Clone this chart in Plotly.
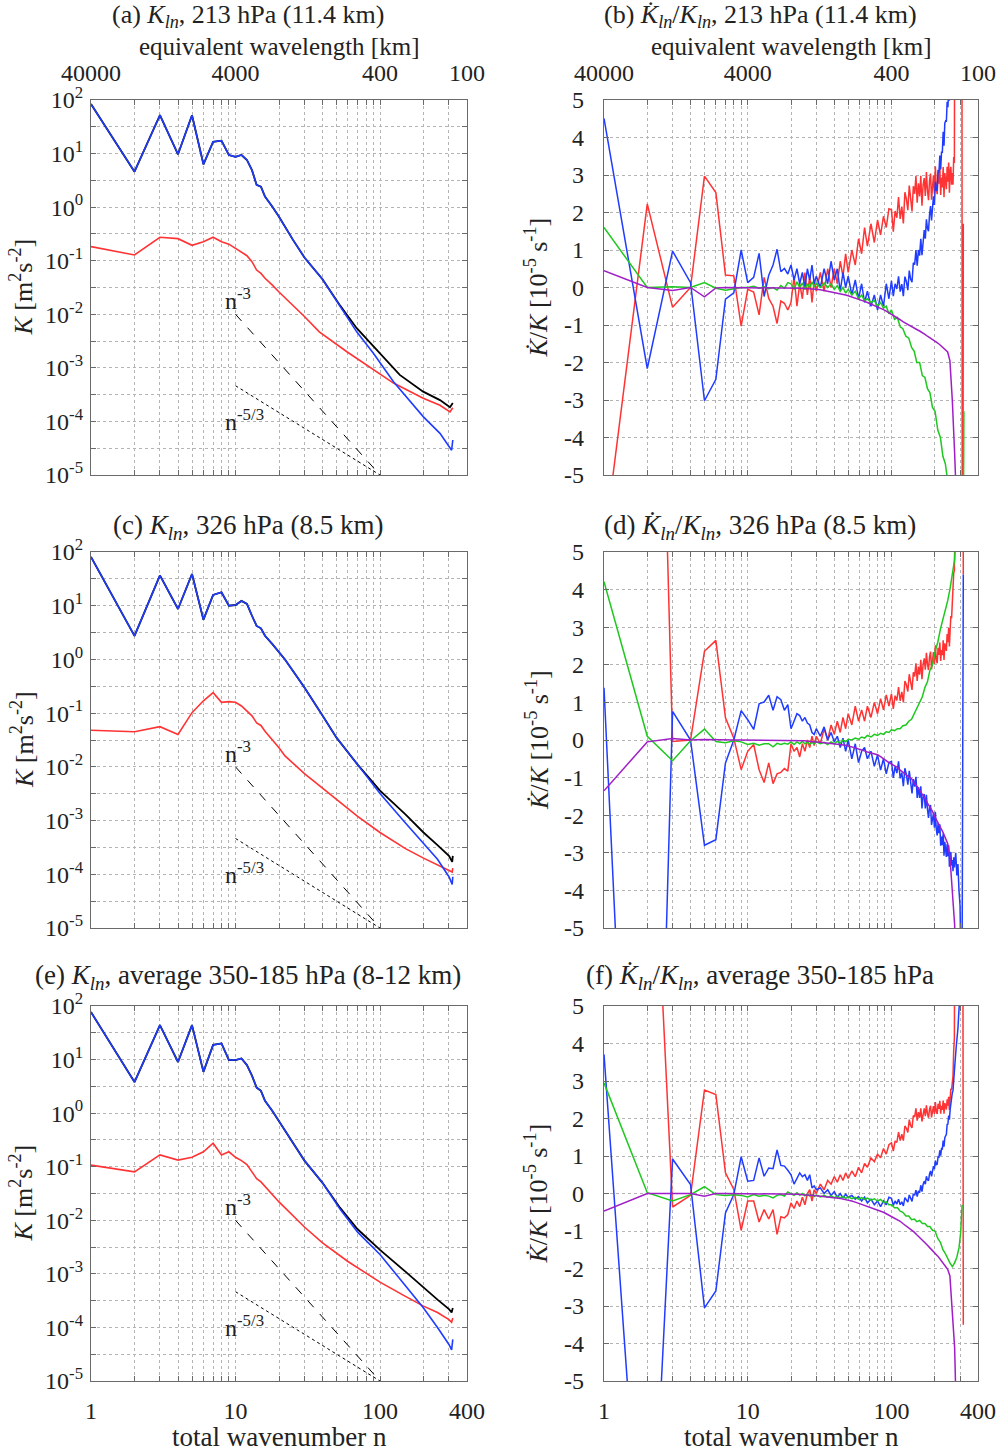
import math
import plotly.graph_objects as go

# ---------------- data ----------------
# left panels: kinetic energy spectra K(n)  [m^2 s^-2]
A_N_BLUE = [1,2,3,4,5,6,7,8,9,10,11,12,13,14,15,16,18,20,25,30,40,53,69,90,124,199,260,313,319]
A_BLUE = [84,4.6,52,9.7,52,6.3,16.6,17.4,9.4,8.7,9.4,7.6,4.9,2.6,2.4,1.57,1.02,0.66,0.245,0.115,0.045,0.0139,0.0047,1.87e-3,5.5e-4,1.23e-4,6e-5,2.9e-5,4.5e-5]
A_N_BLACK = [1,2,3,4,5,6,7,8,9,10,11,12,13,14,15,16,18,20,25,30,40,53,69,100,137,199,260,305,319]
A_BLACK = [84,4.6,52,9.7,52,6.3,16.6,17.4,9.4,8.7,9.4,7.6,4.9,2.6,2.4,1.57,1.02,0.66,0.245,0.115,0.045,0.0145,5.5e-3,1.87e-3,7.4e-4,3.6e-4,2.5e-4,1.84e-4,2.2e-4]
A_N_RED = [1,2,3,4,5,6,7,8,9,10,11,12,13,14,15,16,18,20,30,38,59,90,124,199,260,305,319]
A_RED = [0.183,0.128,0.274,0.258,0.194,0.227,0.274,0.227,0.204,0.17,0.141,0.124,0.096,0.067,0.058,0.047,0.035,0.026,9.1e-3,4.7e-3,2e-3,9.1e-4,5.2e-4,2.7e-4,2e-4,1.5e-4,1.8e-4]

C_N = [1,2,3,4,5,6,7,8,9,10,11,12,13,14,15,16,18,20,22,25,30,40,50,70,100,150,200,250,300,316,319]
C_BLUE = [81,2.75,36.7,8.7,39,5.5,15.9,17.8,10,10.3,12.3,10.8,6.5,4.2,3.8,2.76,1.93,1.35,1.0,0.61,0.3,0.09,0.035,0.011,3.2e-3,9e-4,3.8e-4,1.9e-4,9e-5,6.5e-5,9e-5]
C_BLACK = [81,2.75,36.7,8.7,39,5.5,15.9,17.8,10,10.3,12.3,10.8,6.5,4.2,3.8,2.76,1.93,1.35,1.0,0.61,0.3,0.09,0.035,0.011,3.6e-3,1.3e-3,6e-4,3.5e-4,2.2e-4,1.7e-4,2.2e-4]
C_RED = [0.048,0.045,0.056,0.04,0.102,0.17,0.24,0.159,0.164,0.159,0.136,0.11,0.089,0.066,0.059,0.046,0.032,0.0227,0.016,0.0118,0.0075,4e-3,2.5e-3,1.2e-3,6e-4,3e-4,2e-4,1.5e-4,1.2e-4,1.1e-4,1.3e-4]

E_N = [1,2,3,4,5,6,7,8,9,10,11,12,13,14,15,16,18,20,25,30,40,53,70,100,150,200,250,300,313,319]
E_BLUE = [77,3.8,44,9,44,5.9,18.8,20,9.8,9.8,10.5,7.9,5,3,2.6,1.7,1.1,0.7,0.27,0.13,0.05,0.016,6e-3,2.3e-3,6e-4,2.3e-4,1e-4,4.8e-5,3.8e-5,6e-5]
E_BLACK = [77,3.8,44,9,44,5.9,18.8,20,9.8,9.8,10.5,7.9,5,3,2.6,1.7,1.1,0.7,0.27,0.13,0.05,0.017,6.8e-3,2.8e-3,1.1e-3,5.5e-4,3.3e-4,2.2e-4,1.9e-4,2.3e-4]
E_N_RED = [1,2,3,4,5,6,7,8,9,10,11,12,13,14,15,16,18,20,30,40,60,100,150,200,250,300,313,319]
E_RED = [0.107,0.08,0.166,0.133,0.15,0.19,0.275,0.166,0.19,0.15,0.13,0.11,0.08,0.06,0.052,0.043,0.03,0.022,0.0075,3.8e-3,1.7e-3,7e-4,3.8e-4,2.5e-4,1.9e-4,1.4e-4,1.25e-4,1.5e-4]

# reference slopes
REF_N = [10, 100]
REF_M3 = [1e-2, 1e-5]
REF_M53 = [4.64e-4, 1e-5]

# right panels: Kdot/K [1e-5 s^-1]
N_LO = list(range(1, 20))
N_HI = [20,21,22,23,24,25,26,27,28,29,30,32,34,36,38,40,42,44,46,48,50,53,56,59,62,65,68,72,76,80,84,88,92,96,100,105,110,115,120,126,132,138,144,150,157,164,171,178,185,193,201,210,219,228,237,246,255,265,275]
N_HI_A = N_HI[:34]                 # 20 .. 96
N_DENSE = list(range(100, 275, 3))  # 100 .. 274 (noisy series)

# (b)
B_BLUE_LO = [4.51,-2.16,0.97,0.13,-3.02,-2.45,-0.31,-0.14,1.0,0.13,0.27,0.91,-0.24,0.33,0.6,1.02,0.42,0.51,0.36]
B_BLUE_A = [0.6,0.2,0.5,0.1,0.4,0.0,0.5,0.2,0.6,0.1,0.3,0.0,0.5,0.1,0.7,0.2,0.5,-0.1,0.4,0.0,0.3,-0.2,0.2,-0.3,0.1,-0.4,-0.1,-0.5,-0.2,-0.6,-0.2,-0.5,0.1,-0.3]
B_BLUE_D = [0.18,-0.23,0.10,-0.04,0.30,-0.11,0.09,-0.23,0.29,0.16,-0.07,0.45,0.22,0.14,0.66,0.61,1.00,0.58,1.00,0.85,
            1.30,0.86,1.31,1.53,1.30,1.82,1.58,1.50,1.94,2.17,1.79,2.20,2.43,2.20,2.82,2.58,2.60,3.14,3.07,3.52,
            3.15,3.61,3.61,4.15,3.78,4.38,4.44,4.42,4.95,4.81,5.27,4.98,5.59,5.93,5.85,6.53,6.76,7.65,7.91]
B_BLUE_TN, B_BLUE_T = [290, 319], [10, 10]
B_RED_LO = [-6.9,2.23,-0.53,0.0,2.97,2.53,0.33,0.31,-1.03,-0.05,-0.12,-0.73,0.27,-0.29,-0.5,-0.96,-0.36,-0.42,-0.6]
B_RED_A = [-0.4,0.3,-0.5,0.1,-0.3,0.4,-0.2,0.3,-0.4,0.2,-0.1,0.4,-0.1,0.5,0.0,0.5,0.1,0.7,0.3,0.9,0.4,1.0,0.6,1.3,0.9,1.6,1.1,1.7,1.2,1.8,1.4,1.9,1.6,2.1]
B_RED_D = [2.07,1.49,2.04,1.86,2.41,1.83,2.16,1.71,2.54,2.36,2.06,2.72,2.27,2.03,2.70,2.50,2.98,2.26,2.78,2.43,
           2.98,2.18,2.73,2.92,2.44,3.08,2.59,2.33,2.85,3.04,2.34,2.80,2.99,2.51,3.23,2.66,2.49,3.08,2.77,3.23,
           2.47,2.93,2.67,3.21,2.41,3.05,2.88,2.62,3.22,2.82,3.33,2.53,3.08,3.22,2.74,3.05,2.74,3.48,3.32]
B_RED_TN, B_RED_T = [280, 308, 312, 316], [20, 20, -20, 1.7]
B_GREEN_LO = [1.6,0,0.02,0,0.13,-0.02,-0.07,-0.04,0,0.0,0.03,-0.02,0.02,-0.03,0.0,-0.07,0.05,-0.02,0.13]
B_GREEN_HI = [0.1,-0.05,0.15,0.0,0.12,-0.05,0.1,0.0,0.15,0.02,0.1,0.0,0.12,0.0,0.1,-0.05,0.05,-0.1,0.0,-0.15,-0.05,-0.2,-0.1,-0.3,-0.2,-0.35,-0.3,-0.4,-0.35,-0.5,-0.4,-0.55,-0.5,-0.7,-0.6,-0.85,-0.8,-1.05,-1.1,-1.3,-1.35,-1.6,-1.7,-2.0,-2.0,-2.35,-2.4,-2.7,-2.8,-3.2,-3.3,-3.8,-4.0,-4.5,-4.7,-5.2,-5.6,-6,-6.5]
B_GREEN_TN, B_GREEN_T = [300, 316, 319], [-7, -7, -3.3]
B_PURPLE_LO = [0.45,0,-0.08,0,-0.25,-0.01,0,0,0,0,0,0,0,0,0,0,0,0,0]
B_PURPLE_HI = [-0.01,-0.01,-0.02,-0.02,-0.02,-0.03,-0.03,-0.04,-0.04,-0.05,-0.05,-0.06,-0.08,-0.09,-0.11,-0.12,-0.14,-0.16,-0.18,-0.2,-0.22,-0.25,-0.28,-0.31,-0.34,-0.37,-0.4,-0.44,-0.48,-0.51,-0.55,-0.59,-0.63,-0.67,-0.71,-0.76,-0.81,-0.86,-0.91,-0.96,-1.01,-1.05,-1.09,-1.12,-1.16,-1.2,-1.25,-1.3,-1.34,-1.38,-1.42,-1.48,-1.54,-1.6,-1.66,-1.72,-1.95,-3.0,-4.4]
B_PURPLE_TN, B_PURPLE_T = [285, 319], [-6, -8]

# (d)
D_BLUE_LO = [1.39,-23,0.76,0.0,-2.8,-2.65,-0.61,0.0,0.78,0.54,0.28,0.96,1.01,1.19,0.79,1.15,1.07,0.79,0.94]
D_BLUE_A = [0.3,0.5,0.7,0.65,0.5,0.6,0.45,0.4,0.2,0.15,0.3,0.1,0.35,0.0,0.2,-0.05,0.1,-0.2,0.05,-0.3,0.0,-0.5,-0.1,-0.6,-0.3,-0.2,-0.5,-0.3,-0.7,-0.4,-0.8,-0.5,-0.9,-0.6]
D_BLUE_D = [-0.57,-1.01,-0.70,-0.88,-0.57,-1.02,-0.87,-1.23,-0.75,-0.92,-1.19,-0.82,-1.19,-1.42,-1.04,-1.24,-0.98,-1.54,-1.25,-1.54,
            -1.23,-1.82,-1.51,-1.44,-1.82,-1.46,-1.84,-2.07,-1.79,-1.73,-2.26,-2.01,-1.95,-2.33,-1.91,-2.36,-2.54,-2.21,-2.48,-2.24,
            -2.81,-2.57,-2.80,-2.49,-3.08,-2.71,-2.88,-3.11,-2.77,-3.09,-2.80,-3.37,-3.04,-2.98,-3.34,-3.19,-3.49,-3.12,-3.39]
D_BLUE_TN, D_BLUE_T = [280, 285, 290, 295, 300, 303, 310, 316], [-3.0, -3.6, -3.3, -4.0, -4.4, -5.5, -6, 4.4]
D_RED_LO = [30,25,-0.04,0.0,2.36,2.65,0.59,0.05,-0.79,-0.3,-0.12,-0.79,-1.13,-0.61,-1.16,-0.9,-0.86,-0.76,-0.83]
D_RED_A = [-0.1,-0.3,-0.2,-0.45,-0.1,-0.3,0.0,-0.2,0.1,-0.15,0.1,-0.1,0.3,0.0,0.4,0.15,0.5,0.2,0.6,0.3,0.7,0.4,0.9,0.5,0.8,0.5,0.9,0.6,1.0,0.7,1.1,0.8,1.2,0.9]
D_RED_D = [1.23,0.83,1.18,1.05,1.41,1.04,1.28,1.00,1.57,1.47,1.29,1.75,1.47,1.33,1.80,1.69,2.04,1.57,1.95,1.74,
           2.13,1.62,2.01,2.17,1.87,2.32,2.02,1.86,2.21,2.35,1.88,2.20,2.34,2.02,2.52,2.15,2.04,2.45,2.26,2.59,
           2.10,2.39,2.26,2.65,2.13,2.57,2.50,2.37,2.82,2.60,2.98,2.49,2.94,3.30,3.24,3.70,3.73,4.43,4.51]
D_RED_TN, D_RED_T = [282, 312, 316], [20, 20, 4.4]
D_GREEN_LO = [4.21,0.1,-0.55,-0.02,0.29,-0.04,-0.07,-0.02,-0.05,-0.12,-0.09,-0.14,-0.1,-0.1,-0.18,-0.09,-0.12,-0.09,-0.11]
D_GREEN_HI = [-0.05,-0.12,-0.05,-0.1,-0.04,-0.1,-0.05,-0.12,-0.06,-0.1,-0.05,-0.1,-0.06,-0.12,-0.05,-0.1,-0.03,-0.08,0.0,-0.05,0.02,0.0,0.05,0.02,0.08,0.05,0.12,0.08,0.15,0.12,0.18,0.15,0.22,0.2,0.27,0.25,0.3,0.3,0.38,0.4,0.5,0.55,0.7,0.8,1.0,1.15,1.4,1.55,1.85,2.0,2.35,2.6,2.95,3.2,3.5,3.7,4.0,4.4,4.8]
D_GREEN_TN, D_GREEN_T = [285, 319], [6, 8]
D_PURPLE_LO = [-1.35,-0.05,0.04,0.0,0.01,0.0,0,0,0,0,0,0,0,0,0,0,0,0,0]
D_PURPLE_HI = [0,0,-0.01,-0.01,-0.02,-0.02,-0.03,-0.03,-0.04,-0.04,-0.05,-0.06,-0.07,-0.08,-0.09,-0.1,-0.11,-0.12,-0.13,-0.14,-0.16,-0.18,-0.21,-0.24,-0.26,-0.29,-0.32,-0.35,-0.37,-0.39,-0.44,-0.5,-0.55,-0.6,-0.64,-0.68,-0.73,-0.8,-0.86,-0.93,-0.98,-1.03,-1.15,-1.22,-1.33,-1.42,-1.55,-1.68,-1.78,-1.9,-2.05,-2.17,-2.32,-2.45,-2.6,-2.75,-3.1,-3.9,-4.9]
D_PURPLE_TN, D_PURPLE_T = [285, 319], [-7, -9]

# (f)
F_BLUE_LO = [3.71,-12.5,0.92,0.24,-3.05,-2.6,-0.52,-0.03,0.98,0.33,0.35,0.95,0.46,0.68,0.66,1.16,0.75,0.73,0.62]
F_BLUE_A = [0.5,0.25,0.4,0.55,0.45,0.5,0.35,0.5,0.15,0.2,0.1,0.15,0.0,0.1,-0.05,0.05,-0.1,0.0,-0.12,-0.02,-0.1,-0.05,-0.15,-0.08,-0.2,-0.1,-0.25,-0.15,-0.3,-0.2,-0.35,-0.2,-0.3,-0.1]
F_BLUE_D = [-0.13,-0.32,-0.20,-0.28,-0.15,-0.30,-0.22,-0.33,-0.11,-0.16,-0.23,-0.04,-0.16,-0.21,-0.01,-0.05,0.09,-0.08,0.07,0.02,
            0.22,0.05,0.24,0.33,0.25,0.46,0.37,0.34,0.52,0.60,0.46,0.63,0.73,0.65,0.88,0.77,0.78,0.98,0.97,1.15,
            1.01,1.20,1.19,1.41,1.25,1.49,1.55,1.58,1.84,1.85,2.08,1.97,2.24,2.43,2.45,2.68,2.75,3.13,3.26]
F_BLUE_TN, F_BLUE_T = [282, 290, 298, 306, 319], [3.9, 4.4, 5.2, 7, 9]
F_RED_LO = [20,13.6,-0.36,-0.05,2.76,2.64,0.55,0.11,-0.98,-0.2,-0.2,-0.76,-0.43,-0.68,-0.43,-1.09,-0.62,-0.65,-0.56]
F_RED_A = [-0.25,-0.4,-0.2,-0.35,-0.1,-0.3,0.0,0.1,-0.2,0.1,0.0,0.25,0.1,0.35,0.25,0.45,0.3,0.5,0.35,0.55,0.4,0.6,0.45,0.7,0.55,0.8,0.7,0.95,0.85,1.05,0.95,1.2,1.05,1.3]
F_RED_D = [1.35,1.13,1.40,1.36,1.64,1.41,1.58,1.41,1.80,1.74,1.63,1.97,1.81,1.75,2.08,2.04,2.27,1.94,2.17,2.02,
           2.27,1.92,2.17,2.27,2.06,2.35,2.13,2.02,2.25,2.34,2.03,2.24,2.33,2.12,2.44,2.19,2.12,2.39,2.26,2.47,
           2.13,2.34,2.23,2.48,2.13,2.41,2.34,2.24,2.51,2.34,2.58,2.23,2.53,2.79,2.77,3.09,3.14,3.82,4.14]
F_RED_TN, F_RED_T = [282, 312, 316], [20, 20, -3.5]
F_GREEN_LO = [2.95,0.02,-0.2,-0.03,0.18,-0.03,-0.05,-0.03,-0.05,-0.09,-0.03,-0.07,-0.05,-0.07,-0.12,-0.05,-0.03,-0.07,0.04]
F_GREEN_HI = [0.0,-0.05,0.02,-0.05,0.0,-0.06,-0.02,-0.07,-0.03,-0.08,-0.04,-0.09,-0.05,-0.1,-0.06,-0.11,-0.07,-0.12,-0.08,-0.13,-0.09,-0.14,-0.1,-0.15,-0.11,-0.16,-0.12,-0.18,-0.14,-0.2,-0.16,-0.24,-0.22,-0.3,-0.3,-0.38,-0.38,-0.47,-0.5,-0.6,-0.6,-0.7,-0.68,-0.75,-0.72,-0.8,-0.8,-0.88,-0.88,-0.98,-1.0,-1.2,-1.3,-1.5,-1.6,-1.75,-1.85,-1.95,-1.85]
F_GREEN_TN, F_GREEN_T = [285, 295, 303, 310], [-1.7, -1.45, -1.05, -0.3]
F_PURPLE_LO = [-0.47,0,0,0,-0.07,0,0,0,0,0,0,0,0,0,0,0,0,0,0]
F_PURPLE_HI = [-0.01,-0.01,-0.02,-0.02,-0.03,-0.03,-0.04,-0.04,-0.05,-0.05,-0.06,-0.07,-0.08,-0.09,-0.1,-0.11,-0.12,-0.13,-0.15,-0.16,-0.17,-0.2,-0.23,-0.26,-0.29,-0.31,-0.34,-0.37,-0.4,-0.43,-0.46,-0.5,-0.54,-0.58,-0.61,-0.65,-0.69,-0.74,-0.8,-0.86,-0.92,-0.97,-1.03,-1.1,-1.17,-1.25,-1.32,-1.38,-1.45,-1.52,-1.6,-1.67,-1.76,-1.85,-1.93,-2.02,-2.2,-3.1,-4.1]
F_PURPLE_TN, F_PURPLE_T = [283, 319], [-6, -8]

TOP_TICKS = [1, 10, 100, 400]
TOP_LABELS = ["40000", "4000", "400", "100"]
BOT_LABELS = ["1", "10", "100", "400"]

# ---------------- styling ----------------
W, H = 999, 1452
FONT = "Liberation Serif"
FS = 24
FS_T = 27
BLUE, RED, GREEN, PURPLE, BLACK = "#1f3cff", "#ff3333", "#1ec81e", "#a01ec8", "#000000"
GRID = "#b4b4b4"
AX = "#6a6a6a"

def fx(p):
    return p / W

def fy(p):
    return 1 - p / H

LEFT = [fx(91), fx(467)]
RIGHT = [fx(604), fx(978)]
ROWS = [(100, 475), (552, 928), (1006, 1381)]

XT = [1,2,3,4,5,6,7,8,9,10,20,30,40,50,60,70,80,90,100,200,300,400]

fig = go.Figure()

def add(xa, ya, x, y, color, width=1.5):
    assert len(x) == len(y), (len(x), len(y))
    fig.add_trace(go.Scatter(x=x, y=y, mode="lines", xaxis=xa, yaxis=ya,
                             line=dict(color=color, width=width),
                             showlegend=False, hoverinfo="skip"))

def smooth(lo, hi_, tn, t):
    return N_LO + N_HI + tn, lo + hi_ + t

def noisy(lo, a, d, tn, t):
    return N_LO + N_HI_A + N_DENSE + tn, lo + a + d + t

# left panels
left_sets = [
    ("x", "y", (A_N_BLACK, A_BLACK), (A_N_RED, A_RED), (A_N_BLUE, A_BLUE)),
    ("x3", "y3", (C_N, C_BLACK), (C_N, C_RED), (C_N, C_BLUE)),
    ("x5", "y5", (E_N, E_BLACK), (E_N_RED, E_RED), (E_N, E_BLUE)),
]
for xa, ya, blk, red, blu in left_sets:
    add(xa, ya, blk[0], blk[1], BLACK, 1.8)
    add(xa, ya, red[0], red[1], RED, 1.6)
    add(xa, ya, blu[0], blu[1], BLUE, 1.6)
    fig.add_trace(go.Scatter(x=REF_N, y=REF_M3, mode="lines", xaxis=xa, yaxis=ya,
                             line=dict(color="black", width=1, dash="dash"),
                             showlegend=False, hoverinfo="skip"))
    fig.add_trace(go.Scatter(x=REF_N, y=REF_M53, mode="lines", xaxis=xa, yaxis=ya,
                             line=dict(color="black", width=1, dash="dot"),
                             showlegend=False, hoverinfo="skip"))

right_sets = [
    ("x2", "y2",
     noisy(B_RED_LO, B_RED_A, B_RED_D, B_RED_TN, B_RED_T),
     noisy(B_BLUE_LO, B_BLUE_A, B_BLUE_D, B_BLUE_TN, B_BLUE_T),
     smooth(B_GREEN_LO, B_GREEN_HI, B_GREEN_TN, B_GREEN_T),
     smooth(B_PURPLE_LO, B_PURPLE_HI, B_PURPLE_TN, B_PURPLE_T)),
    ("x4", "y4",
     noisy(D_RED_LO, D_RED_A, D_RED_D, D_RED_TN, D_RED_T),
     noisy(D_BLUE_LO, D_BLUE_A, D_BLUE_D, D_BLUE_TN, D_BLUE_T),
     smooth(D_GREEN_LO, D_GREEN_HI, D_GREEN_TN, D_GREEN_T),
     smooth(D_PURPLE_LO, D_PURPLE_HI, D_PURPLE_TN, D_PURPLE_T)),
    ("x6", "y6",
     noisy(F_RED_LO, F_RED_A, F_RED_D, F_RED_TN, F_RED_T),
     noisy(F_BLUE_LO, F_BLUE_A, F_BLUE_D, F_BLUE_TN, F_BLUE_T),
     smooth(F_GREEN_LO, F_GREEN_HI, F_GREEN_TN, F_GREEN_T),
     smooth(F_PURPLE_LO, F_PURPLE_HI, F_PURPLE_TN, F_PURPLE_T)),
]
for xa, ya, r, b, g, p in right_sets:
    for s, c in ((r, RED), (b, BLUE), (g, GREEN), (p, PURPLE)):
        add(xa, ya, s[0], s[1], c, 1.5)

# dummy traces for top axes
fig.add_trace(go.Scatter(x=[1, 400], y=[1, 1], xaxis="x7", yaxis="y", mode="lines",
                         line=dict(width=0), opacity=0, showlegend=False, hoverinfo="skip"))
fig.add_trace(go.Scatter(x=[1, 400], y=[0, 0], xaxis="x8", yaxis="y2", mode="lines",
                         line=dict(width=0), opacity=0, showlegend=False, hoverinfo="skip"))

xrange = [0, math.log10(400)]
common_ax = dict(showline=True, linecolor=AX, linewidth=1.2, ticks="inside", ticklen=5,
                 tickcolor=AX, showgrid=True, gridcolor=GRID, griddash="dot", gridwidth=1,
                 zeroline=False, automargin=False,
                 tickfont=dict(family=FONT, size=FS, color="#222"))

lay = dict(width=W, height=H, margin=dict(l=0, r=0, t=0, b=0, pad=0, autoexpand=False),
           paper_bgcolor="white", plot_bgcolor="white", showlegend=False,
           font=dict(family=FONT, size=FS, color="#222"))

names = ["", "2", "3", "4", "5", "6"]
ytv_log = []
ytt_log = []
for k in range(-5, 3):
    ytv_log.append(10 ** k)
    ytt_log.append("10<sup>%d</sup>" % k)
    if k < 2:
        ytv_log.append(10 ** (k + 0.5))
        ytt_log.append("")
for i, nm in enumerate(names):
    row = i // 2
    col = i % 2
    top, bot = ROWS[row]
    xdom = LEFT if col == 0 else RIGHT
    ydom = [fy(bot), fy(top)]
    xax = dict(common_ax, type="log", range=xrange, domain=xdom, anchor="y" + nm,
               tickvals=XT, mirror="ticks",
               ticktext=[(BOT_LABELS[TOP_TICKS.index(v)] if v in TOP_TICKS else "") for v in XT],
               showticklabels=(row == 2), ticklabelstandoff=8)
    if col == 0:
        yax = dict(common_ax, type="log", range=[-5, 2], domain=ydom, anchor="x" + nm,
                   tickvals=ytv_log, ticktext=ytt_log, mirror="ticks", ticklabelstandoff=2)
    else:
        yax = dict(common_ax, type="linear", range=[-5, 5], domain=ydom, anchor="x" + nm,
                   tickvals=list(range(-5, 6)), ticktext=[str(v) for v in range(-5, 6)],
                   mirror="ticks", ticklabelstandoff=14)
    lay["xaxis" + nm] = xax
    lay["yaxis" + nm] = yax

for key, ov, yref in (("xaxis7", "x", "y"), ("xaxis8", "x2", "y2")):
    lay[key] = dict(type="log", range=xrange, overlaying=ov, side="top", anchor=yref,
                    tickvals=TOP_TICKS, ticktext=TOP_LABELS, showgrid=False, showline=False,
                    ticks="", zeroline=False, ticklabelstandoff=13, automargin=False,
                    tickfont=dict(family=FONT, size=FS, color="#222"))

fig.update_layout(**lay)

ann = []
def text(x, y, s, size=FS_T, angle=0, xanchor="center", yanchor="middle"):
    ann.append(dict(x=fx(x), y=fy(y), xref="paper", yref="paper", text=s, showarrow=False,
                    textangle=angle, xanchor=xanchor, yanchor=yanchor,
                    font=dict(family=FONT, size=size, color="#222")))

KLN = "<i>K</i><sub><i>ln</i></sub>"
KDOT = "<i>K\u0307</i><sub><i>ln</i></sub>/<i>K</i><sub><i>ln</i></sub>"
text(248, 16, "(a) " + KLN + ", 213 hPa (11.4 km)", size=26)
text(760, 16, "(b) " + KDOT + ", 213 hPa (11.4 km)", size=26)
text(248, 527, "(c) " + KLN + ", 326 hPa (8.5 km)", size=27)
text(760, 527, "(d) " + KDOT + ", 326 hPa (8.5 km)", size=27)
text(248, 977, "(e) " + KLN + ", average 350-185 hPa (8-12 km)", size=27)
text(760, 977, "(f) " + KDOT + ", average 350-185 hPa", size=27)
text(279, 46, "equivalent wavelength [km]", size=25)
text(791, 46, "equivalent wavelength [km]", size=25)
text(279, 1437, "total wavenumber n")
text(791, 1437, "total wavenumber n")
for top, bot in ROWS:
    mid = (top + bot) / 2
    text(22, mid, "<i>K</i> [m<sup>2</sup>s<sup>-2</sup>]", size=26, angle=-90)
    text(537, mid, "<i>K\u0307</i>/<i>K</i> [10<sup>-5</sup> s<sup>-1</sup>]", size=26, angle=-90)

for xa, ya in (("x", "y"), ("x3", "y3"), ("x5", "y5")):
    ann.append(dict(x=0.913, y=-1.72, xref=xa, yref=ya, text="n<sup>-3</sup>", showarrow=False,
                    xanchor="left", yanchor="middle", font=dict(family=FONT, size=FS, color="#222")))
    ann.append(dict(x=0.913, y=-3.97, xref=xa, yref=ya, text="n<sup>-5/3</sup>", showarrow=False,
                    xanchor="left", yanchor="middle", font=dict(family=FONT, size=FS, color="#222")))

fig.update_layout(annotations=ann)
fig.write_html("out.html")
